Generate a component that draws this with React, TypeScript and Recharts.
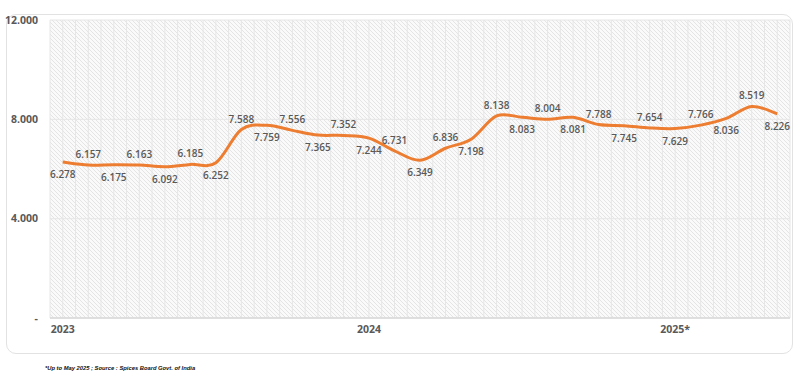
import React from "react"
import { LineChart, Line, XAxis, YAxis, CartesianGrid, LabelList } from "recharts"

const months = [
  "Jan-23", "Feb-23", "Mar-23", "Apr-23", "May-23", "Jun-23", "Jul-23", "Aug-23", "Sep-23", "Oct-23", "Nov-23", "Dec-23",
  "Jan-24", "Feb-24", "Mar-24", "Apr-24", "May-24", "Jun-24", "Jul-24", "Aug-24", "Sep-24", "Oct-24", "Nov-24", "Dec-24",
  "Jan-25", "Feb-25", "Mar-25", "Apr-25", "May-25",
]

const prices = [
  6.278, 6.157, 6.175, 6.163, 6.092, 6.185, 6.252, 7.588, 7.759, 7.556, 7.365, 7.352,
  7.244, 6.731, 6.349, 6.836, 7.198, 8.138, 8.083, 8.004, 8.081, 7.788, 7.745, 7.654,
  7.629, 7.766, 8.036, 8.519, 8.226,
]

const yearTicks = [0, 12, 24]
const yearLabels = ["2023", "2024", "2025*"]
const yTicks = [0, 4, 8, 12]

const data = months.map((m, i) => ({ idx: i, month: m, price: prices[i] }))

const textColor = "#595959"
const font = "'Open Sans', sans-serif"

// Excel-like smoothed line (uniform Catmull-Rom as cubic beziers)
const excelSmooth = (context: any) => {
  let pts: number[][] = []
  return {
    areaStart() {},
    areaEnd() {},
    lineStart() {
      pts = []
    },
    point(x: number, y: number) {
      pts.push([+x, +y])
    },
    lineEnd() {
      if (!pts.length) return
      context.moveTo(pts[0][0], pts[0][1])
      for (let i = 0; i < pts.length - 1; i++) {
        const p0 = pts[i - 1] || pts[i]
        const p1 = pts[i]
        const p2 = pts[i + 1]
        const p3 = pts[i + 2] || p2
        context.bezierCurveTo(
          p1[0] + (p2[0] - p0[0]) / 6,
          p1[1] + (p2[1] - p0[1]) / 6,
          p2[0] - (p3[0] - p1[0]) / 6,
          p2[1] - (p3[1] - p1[1]) / 6,
          p2[0],
          p2[1]
        )
      }
    },
  }
}

// alternate labels above / below the line like the original
const PriceLabel = (props: any) => {
  const { x, y, value, index } = props
  const above = index % 2 === 1
  return (
    <text
      x={x}
      y={above ? y - 11 : y + 12}
      textAnchor="middle"
      dominantBaseline="central"
      fontSize={10}
      fontWeight={600}
      fontFamily={font}
      fill={textColor}
    >
      {Number(value).toFixed(3)}
    </text>
  )
}

export default function App() {
  return (
    <div style={{ position: "absolute", left: 0, top: 0, width: 800, height: 383, background: "#fff" }}>
      <div
        style={{
          position: "absolute",
          left: 6,
          top: 14,
          width: 785,
          height: 338,
          border: "1.5px solid #e2e2e2",
          borderRadius: 10,
        }}
      />
      <div style={{ position: "absolute", left: 0, top: 0 }}>
        <LineChart width={800} height={383} data={data} margin={{ top: 20, right: 10, bottom: 0, left: 0 }}>
          <defs>
            <pattern id="hatch" width="4" height="4" patternUnits="userSpaceOnUse">
              <rect width="4" height="4" fill="#fafafa" />
              <path d="M-1,-1 L5,5 M3,-1 L5,1 M-1,3 L1,5" stroke="#e4e4e4" strokeWidth={1} />
            </pattern>
          </defs>
          <CartesianGrid
            fill="url(#hatch)"
            stroke="#e6e6e6"
            strokeWidth={1}
            verticalCoordinatesGenerator={({ offset }: any) =>
              Array.from({ length: 59 }, (_, k) => offset.left + (offset.width * k) / 58)
            }
          />
          <XAxis
            dataKey="idx"
            type="number"
            domain={[-0.5, 28.5]}
            ticks={yearTicks}
            tickFormatter={(v: number) => yearLabels[yearTicks.indexOf(v)]}
            height={65}
            tickSize={0}
            tickMargin={8}
            axisLine={{ stroke: "#d9d9d9", strokeWidth: 1.5 }}
            tickLine={false}
            tick={{ fill: textColor, fontSize: 10.5, fontWeight: 700, fontFamily: font }}
            interval={0}
          />
          <YAxis
            domain={[0, 12]}
            ticks={yTicks}
            tickFormatter={(v: number) => (v === 0 ? "-" : v.toFixed(3))}
            width={50}
            tickSize={0}
            tickMargin={12}
            axisLine={false}
            tickLine={false}
            tick={{ fill: textColor, fontSize: 10.5, fontWeight: 700, fontFamily: font }}
          />
          <Line
            type={excelSmooth as any}
            dataKey="price"
            stroke="#ed7d31"
            strokeWidth={3}
            dot={false}
            isAnimationActive={false}
          >
            <LabelList dataKey="price" content={<PriceLabel />} />
          </Line>
        </LineChart>
      </div>
      <div
        style={{
          position: "absolute",
          left: 45,
          top: 365,
          fontSize: 5.8,
          fontWeight: 700,
          fontStyle: "italic",
          fontFamily: "'Liberation Sans', Arial, sans-serif",
          color: "#111",
          whiteSpace: "nowrap",
        }}
      >
        *Up to May 2025 ; Source : Spices Board Govt. of India
      </div>
    </div>
  )
}
